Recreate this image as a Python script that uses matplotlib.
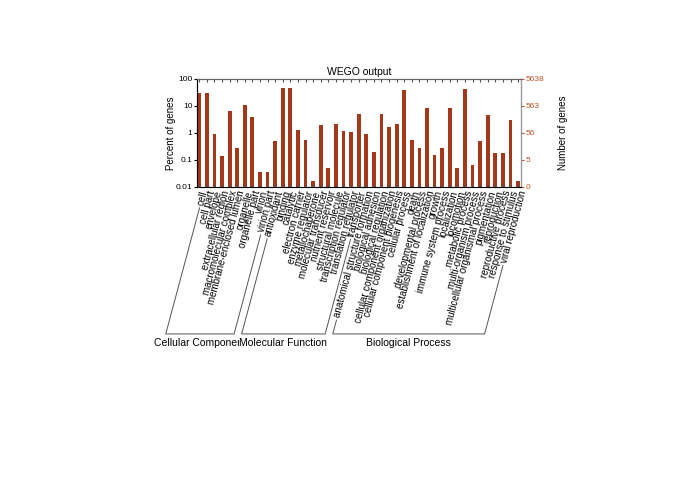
import numpy as np
import matplotlib
matplotlib.use("Agg")
import matplotlib.pyplot as plt
from matplotlib.lines import Line2D

plt.rcParams['font.family'] = ['Liberation Sans', 'DejaVu Sans']

# ── Data (percent of genes per GO term) ───────────────────────────────────────
cc_terms = ["cell", "cell part", "envelope", "extracellular region",
            "macromolecular complex", "membrane-enclosed lumen", "organelle",
            "organelle part", "virion", "virion part"]
cc_pct = [30, 30, 0.89, 0.14, 6.3, 0.27, 11, 3.9, 0.035, 0.035]

mf_terms = ["antioxidant", "binding", "catalytic", "electron carrier",
            "enzyme regulator", "metallochaperone", "molecular transducer",
            "nutrient reservoir", "structural molecule",
            "transcription regulator", "translation regulator", "transporter"]
mf_pct = [0.49, 46, 46, 1.3, 0.54, 0.017, 2.0, 0.049, 2.1, 1.2, 1.05, 5.0]

bp_terms = ["anatomical structure formation", "biological adhesion",
            "biological regulation", "cellular component organization",
            "cellular component biogenesis", "cellular process", "death",
            "developmental process", "establishment of localization", "growth",
            "immune system process", "localization", "locomotion",
            "metabolic process", "multi-organism process",
            "multicellular organismal process", "pigmentation", "reproduction",
            "reproductive process", "response to stimulus", "viral reproduction"]
bp_pct = [0.87, 0.19, 4.9, 1.6, 2.1, 40, 0.56, 0.27, 8.7, 0.15, 0.27, 8.7,
          0.05, 44, 0.067, 0.49, 4.6, 0.18, 0.18, 3.1, 0.017]

group_names = ["Cellular Component", "Molecular Function", "Biological Process"]
pct_ticks = [0.01, 0.1, 1, 10, 100]
pct_labels = ["0.01", "0.1", "1", "10", "100"]
gene_labels = ["0", "5", "56", "563", "5638"]

terms = cc_terms + mf_terms + bp_terms
pct = np.array(cc_pct + mf_pct + bp_pct)
x = np.arange(len(terms))
sizes = [len(cc_terms), len(mf_terms), len(bp_terms)]

BAR = '#a3391a'
RIGHT = '#bf5426'
ANGLE = 75

# ── Figure ────────────────────────────────────────────────────────────────────
fig = plt.figure(figsize=(6.85, 4.84), dpi=100)
ax = fig.add_axes([0.287, 0.614, 0.474, 0.223])
ax.bar(x, pct - 0.01, bottom=0.01, width=0.5, color=BAR)
ax.set_yscale('log')
ax.set_ylim(0.01, 100)
ax.set_xlim(-0.35, len(terms) - 1 + 0.42)
ax.set_yticks(pct_ticks)
ax.set_yticklabels(pct_labels)
ax.minorticks_off()
ax.set_xticks(x)
ax.set_xticklabels(terms, rotation=ANGLE, ha='right', va='top',
                   rotation_mode='anchor', fontsize=7)
ax.tick_params(axis='x', length=2, direction='in', top=True, pad=2,
               color='#555')
ax.tick_params(axis='y', labelsize=6, length=2, pad=1)
ax.set_ylabel('Percent of genes', fontsize=7, labelpad=0)
ax.set_title('WEGO output', fontsize=7.5, pad=3)
for s in ['top', 'bottom']:
    ax.spines[s].set_color('#666')
ax.spines['left'].set_color('#333')

ax2 = ax.twinx()
ax2.set_yscale('log')
ax2.set_ylim(0.01, 100)
ax2.set_yticks(pct_ticks)
ax2.set_yticklabels(gene_labels)
ax2.minorticks_off()
ax2.tick_params(axis='y', labelsize=6, length=2, pad=1, colors=RIGHT)
ax2.set_ylabel('Number of genes', fontsize=7, labelpad=10)
ax2.spines['right'].set_color('#999')
ax2.spines['top'].set_color('#666')

# ── Group brackets, built from the rotated label extents ─────────────────────
fig.canvas.draw()
renderer = fig.canvas.get_renderer()
labels = ax.get_xticklabels()
th = np.deg2rad(ANGLE)
c, s = np.cos(th), np.sin(th)
y_base = fig.transFigure.transform((0, 0.31))[1]
to_fig = fig.transFigure.inverted()


def label_start(lbl, gap=3):
    bb = lbl.get_window_extent(renderer)
    W, H = bb.width, bb.height
    h = (H * c - W * s) / (c * c - s * s)
    px = bb.x0 + 0.5 * h * s - gap * c
    py = bb.y0 + 0.5 * h * c - gap * s
    return px, py


def foot(px, py):
    t = (py - y_base) / s
    return px - t * c, y_base


start = 0
for name, n in zip(group_names, sizes):
    p1 = label_start(labels[start])
    p2 = label_start(labels[start + n - 1])
    b1 = foot(*p1)
    b2 = foot(*p2)
    pts = to_fig.transform([p1, b1, b2, p2])
    fig.add_artist(Line2D(pts[:, 0], pts[:, 1], color='#555', lw=0.7))
    mid = (pts[1, 0] + pts[2, 0]) / 2
    kw = {}
    if name == "Molecular Function":
        kw = dict(bbox=dict(facecolor='white', edgecolor='none', pad=0.3),
                  zorder=5)
    fig.text(mid, pts[1, 1] - 0.019, name, ha='center', va='center',
             fontsize=7.5, **kw)
    start += n

fig.savefig('out.png', dpi=100)
